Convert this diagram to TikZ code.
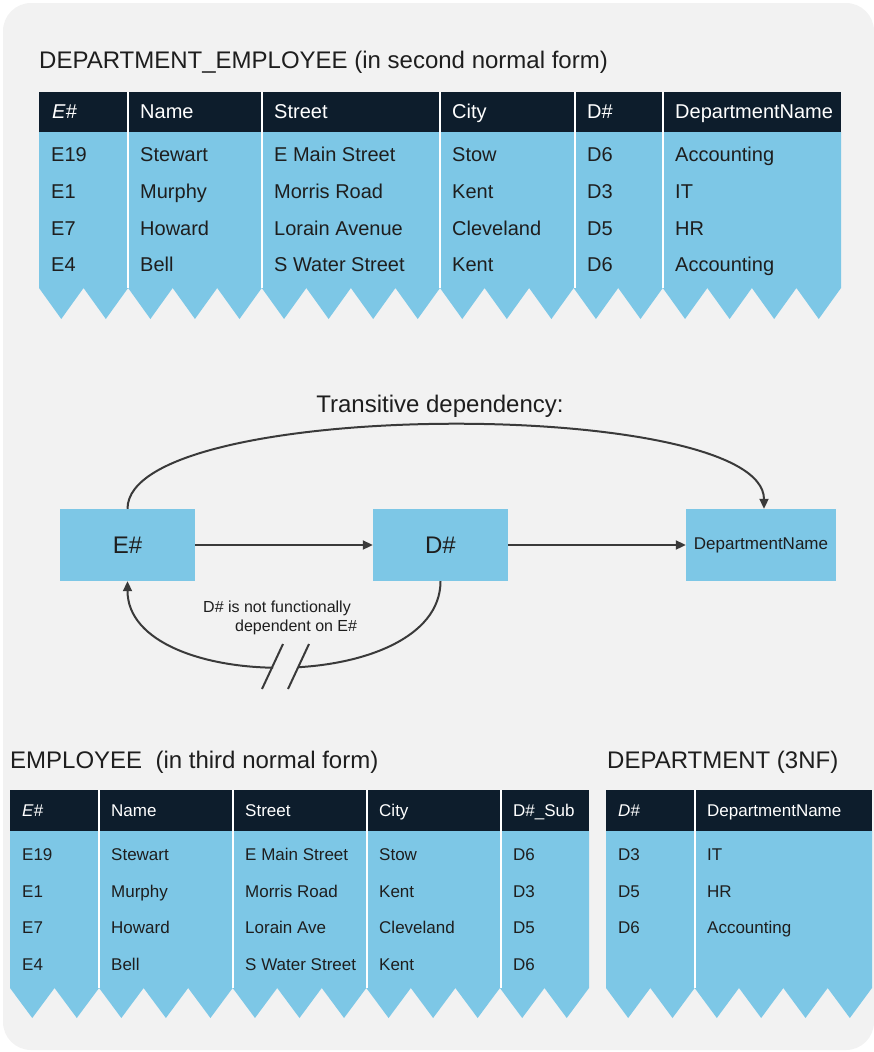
\documentclass[tikz,border=0pt]{standalone}
\usepackage{fontspec}
\setmainfont{Liberation Sans}
\usetikzlibrary{arrows.meta}
\definecolor{panel}{HTML}{F2F2F2}
\definecolor{cellblue}{HTML}{7DC7E6}
\definecolor{headnavy}{HTML}{0D1D2C}
\definecolor{ink}{HTML}{1E1E1E}
\definecolor{linkgray}{HTML}{3A3A3A}

% Table body: navy header band, blue body with a saw-tooth lower edge.
% #1 left x, #2 right x, #3 header top, #4 header bottom, #5 tooth top, #6 tooth tip, #7 teeth
\newcommand\sawtable[7]{%
  \fill[headnavy] (#1,#3) rectangle (#2,#4);
  \pgfmathsetmacro\toothpitch{(#2-#1)/#7}
  \fill[cellblue] (#1,#4) -- (#2,#4) -- (#2,#5)
    \foreach \k in {1,...,#7}{ -- ({#2-(\k-0.5)*\toothpitch},#6) -- ({#2-\k*\toothpitch},#5) } -- cycle;
}

\tikzset{
  title/.style={anchor=base west, inner sep=0pt, text=ink, font=\fontsize{24pt}{28pt}\selectfont},
  bighead/.style={anchor=base west, inner sep=0pt, text=white, font=\fontsize{20pt}{24pt}\selectfont},
  bigcell/.style={anchor=base west, inner sep=0pt, text=ink, font=\fontsize{20pt}{24pt}\selectfont},
  smallhead/.style={anchor=base west, inner sep=0pt, text=white, font=\fontsize{17pt}{20pt}\selectfont},
  smallcell/.style={anchor=base west, inner sep=0pt, text=ink, font=\fontsize{17pt}{20pt}\selectfont},
  colrule/.style={draw=white, line width=1.5pt},
  fdbox/.style={fill=cellblue, draw=none, minimum height=72pt, inner sep=0pt, text=ink},
  conn/.style={draw=linkgray, line width=2pt, -{Triangle[length=10pt,width=9pt]}},
  note/.style={anchor=base west, inner sep=0pt, text=ink, font=\fontsize{16pt}{19pt}\selectfont},
}

\begin{document}
\begin{tikzpicture}[x=1pt, y=-1pt]
\useasboundingbox (0,0) rectangle (874,1052);
\fill[panel, rounded corners=28pt] (3,3) rectangle (874,1050);

% ---------------- DEPARTMENT_EMPLOYEE (2NF) ----------------
\node[title] (detitle) at (39,68) {DEPARTMENT\_EMPLOYEE (in second normal form)};
\sawtable{39}{841}{92}{132}{288}{319}{18}
\foreach \x in {128,262,440,575,663} \draw[colrule] (\x,92) -- (\x,288);

\node[bighead] (de-h1) at (52,118) {\itshape E\#};
\node[bighead] (de-h2) at (140,118) {Name};
\node[bighead] (de-h3) at (274,118) {Street};
\node[bighead] (de-h4) at (452,118) {City};
\node[bighead] (de-h5) at (587,118) {D\#};
\node[bighead] (de-h6) at (675,118) {DepartmentName};

\foreach \r/\yy/\ca/\cb/\cc/\cd/\ce/\cf in {
    1/161/E19/Stewart/E Main Street/Stow/D6/Accounting,
    2/198/E1/Murphy/Morris Road/Kent/D3/IT,
    3/235/E7/Howard/Lorain Avenue/Cleveland/D5/HR,
    4/271/E4/Bell/S Water Street/Kent/D6/Accounting}{
  \node[bigcell] (de-\r-1) at (51,\yy) {\ca};
  \node[bigcell] (de-\r-2) at (140,\yy) {\cb};
  \node[bigcell] (de-\r-3) at (274,\yy) {\cc};
  \node[bigcell] (de-\r-4) at (452,\yy) {\cd};
  \node[bigcell] (de-\r-5) at (587,\yy) {\ce};
  \node[bigcell] (de-\r-6) at (675,\yy) {\cf};
}

% ---------------- Transitive dependency ----------------
\node[title, anchor=base] (tdtitle) at (440,412) {Transitive dependency:};

\node[fdbox, minimum width=135pt, font=\fontsize{24pt}{28pt}\selectfont] (ebox) at (127.5,545) {E\#};
\node[fdbox, minimum width=135pt, font=\fontsize{24pt}{28pt}\selectfont] (dbox) at (440.5,545) {D\#};
\node[fdbox, minimum width=150pt, font=\fontsize{17pt}{20pt}\selectfont] (nbox) at (761,545) {DepartmentName};

\draw[conn] (ebox.east) -- (dbox.west);
\draw[conn] (dbox.east) -- (nbox.west);
\draw[conn] (ebox.north) .. controls (127.5,397) and (764,397) .. ([xshift=3pt]nbox.north);

% broken back-arc from D# to E#
\begin{scope}
  \clip (0,0) rectangle (273,1052) (299,0) rectangle (874,1052);
  \draw[conn] (dbox.south) .. controls (440.5,695) and (127.5,695) .. (ebox.south);
\end{scope}
\coordinate (breakA1) at (262,689);
\coordinate (breakA2) at (283,644);
\coordinate (breakB1) at (288,689);
\coordinate (breakB2) at (309,644);
\draw[linkgray, line width=2pt] (breakA1) -- (breakA2);
\draw[linkgray, line width=2pt] (breakB1) -- (breakB2);

\node[note] (notea) at (203,612) {D\# is not functionally};
\node[note] (noteb) at (235,631) {dependent on E\#};

% ---------------- EMPLOYEE (3NF) ----------------
\node[title] (emtitle) at (10,768) {EMPLOYEE\ \ (in third normal form)};
\sawtable{10}{589}{790}{831}{988}{1018}{13}
\foreach \x in {99,233,367,501} \draw[colrule] (\x,790) -- (\x,988);

\node[smallhead] (em-h1) at (22,816) {\itshape E\#};
\node[smallhead] (em-h2) at (111,816) {Name};
\node[smallhead] (em-h3) at (245,816) {Street};
\node[smallhead] (em-h4) at (379,816) {City};
\node[smallhead] (em-h5) at (513,816) {D\#\_Sub};

\foreach \r/\yy/\ca/\cb/\cc/\cd/\ce in {
    1/860/E19/Stewart/E Main Street/Stow/D6,
    2/897/E1/Murphy/Morris Road/Kent/D3,
    3/933/E7/Howard/Lorain Ave/Cleveland/D5,
    4/970/E4/Bell/S Water Street/Kent/D6}{
  \node[smallcell] (em-\r-1) at (22,\yy) {\ca};
  \node[smallcell] (em-\r-2) at (111,\yy) {\cb};
  \node[smallcell] (em-\r-3) at (245,\yy) {\cc};
  \node[smallcell] (em-\r-4) at (379,\yy) {\cd};
  \node[smallcell] (em-\r-5) at (513,\yy) {\ce};
}

% ---------------- DEPARTMENT (3NF) ----------------
\node[title] (dptitle) at (607,768) {DEPARTMENT (3NF)};
\sawtable{606}{872}{790}{831}{988}{1018}{6}
\draw[colrule] (695,790) -- (695,988);

\node[smallhead] (dp-h1) at (618,816) {\itshape D\#};
\node[smallhead] (dp-h2) at (707,816) {DepartmentName};

\foreach \r/\yy/\ca/\cb in {1/860/D3/IT, 2/897/D5/HR, 3/933/D6/Accounting}{
  \node[smallcell] (dp-\r-1) at (618,\yy) {\ca};
  \node[smallcell] (dp-\r-2) at (707,\yy) {\cb};
}
\end{tikzpicture}
\end{document}
